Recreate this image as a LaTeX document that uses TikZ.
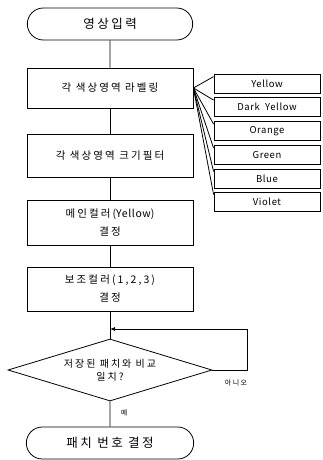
\documentclass[tikz,border=0pt]{standalone}
\usepackage{fontspec}
\setmainfont{Noto Sans CJK KR}[LetterSpace=20]
\usetikzlibrary{shapes.geometric,shapes.misc,arrows.meta}

\begin{document}
\begin{tikzpicture}[x=1pt,y=-1pt,line width=0.8pt,
  term/.style={draw,rounded rectangle,
    minimum width=172pt,minimum height=32pt,font=\fontsize{12.5}{14}\selectfont},
  proc/.style={draw,rectangle,minimum width=166pt,align=center,
    font=\fontsize{10.5}{18}\selectfont},
  colbox/.style={draw,rectangle,minimum width=106pt,minimum height=19pt,
    inner sep=0pt,font=\fontsize{9.5}{10}\selectfont\addfontfeature{LetterSpace=6}},
  dec/.style={draw,diamond,aspect=3.3,minimum width=204pt,minimum height=62pt,
    inner sep=0pt,align=center,font=\fontsize{10}{13}\selectfont},
  small/.style={font=\fontsize{7}{8}\selectfont}]
  \useasboundingbox (0,0) rectangle (322,460);
  \node[term] (start) at (110,24) {영상입력};
  \node[proc,minimum height=40pt] (label) at (110,88) {각 색상영역 라벨링};
  \node[proc,minimum height=43pt] (filter) at (110,155.5) {각 색상영역 크기필터};
  \node[proc,minimum height=45pt] (main) at (110,222.5) {메인컬러({\addfontfeature{LetterSpace=6}Yellow})\\결정};
  \node[proc,minimum height=44pt] (sub) at (110,289) {보조컬러(1,2,3)\\결정};
  \node[dec] (cmp) at (110,370) {저장된 패치와 비교\\일치?};
  \node[term,minimum width=174pt] (stop) at (110,443) {패치 번호 결정};
  \foreach \nm/\yy [count=\i] in {Yellow/83.5,Dark~~Yellow/107,Orange/131,
      Green/155,Blue/178.5,Violet/201.5}{
    \node[colbox] (c\i) at (267,\yy) {\nm};
    \draw (label.east) -- ([yshift=-3pt]c\i.north west);
  }
  \draw (start) -- (label);
  \draw (label) -- (filter);
  \draw (filter) -- (main);
  \draw (main) -- (sub);
  \draw (sub) -- (cmp);
  \draw (cmp) -- (stop);
  \coordinate (join) at (110,329);
  \coordinate (loop) at (247,329);
  \draw[-{Latex[length=5pt,width=4pt]}] (cmp.east) -| (loop) -- (join);
  \node[small] (no) at (236,383) {아니오};
  \node[small] (yes) at (124,413) {예};
\end{tikzpicture}
\end{document}
